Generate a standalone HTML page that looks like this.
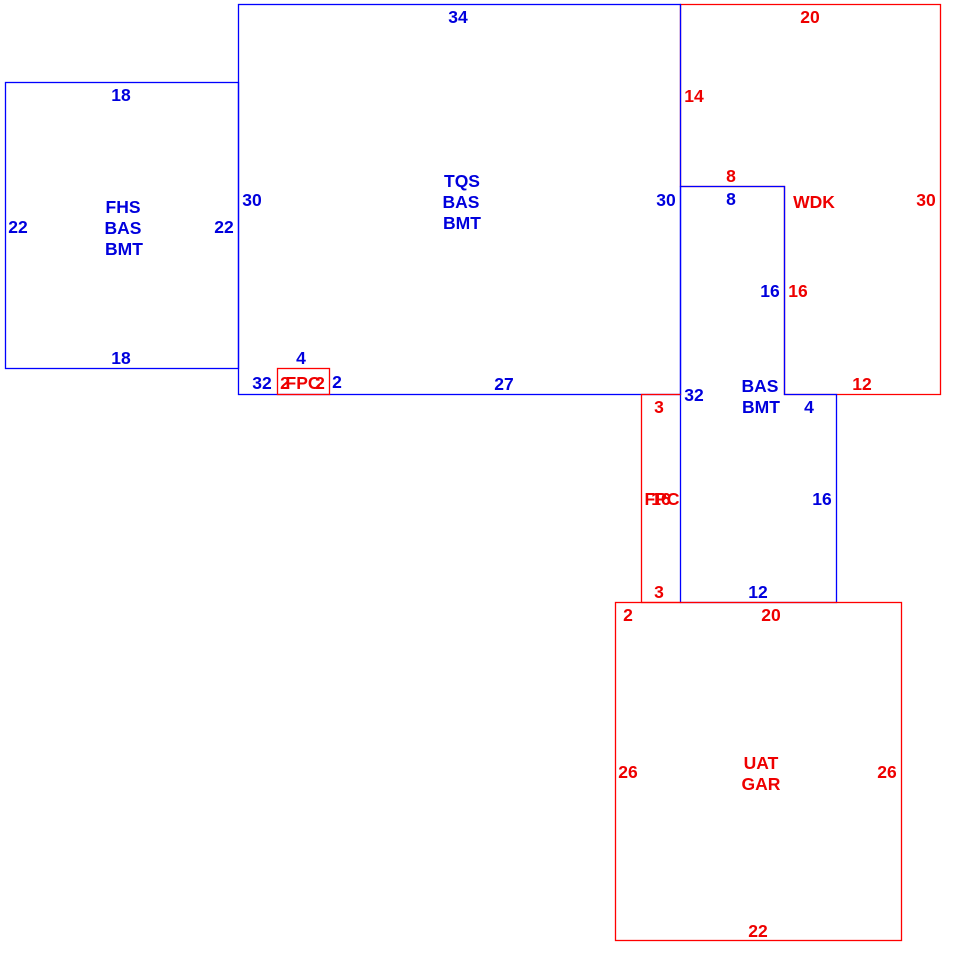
<!DOCTYPE html>
<html><head><meta charset="utf-8"><style>
html,body{margin:0;padding:0;background:#fff;}
svg{display:block;}
text{font-family:"Liberation Sans",Arial,sans-serif;font-weight:bold;font-size:17.5px;text-anchor:middle;dominant-baseline:central;}
.b{fill:#0000dd;}
.r{fill:#ee0000;}
</style></head><body>
<svg width="980" height="980" viewBox="0 0 980 980" xmlns="http://www.w3.org/2000/svg">
<rect width="980" height="980" fill="#fff"/>
<g fill="none" stroke-width="1.3">
<polygon points="680.5,4.5 940.5,4.5 940.5,394.5 784.5,394.5 784.5,186.5 680.5,186.5" stroke="#ff0000"/>
<rect x="238.5" y="4.5" width="442" height="390" stroke="#0000ff"/>
<rect x="5.5" y="82.5" width="233" height="286" stroke="#0000ff"/>
<polygon points="680.5,186.5 784.5,186.5 784.5,394.5 836.5,394.5 836.5,602.5 680.5,602.5" stroke="#0000ff"/>
<rect x="277.5" y="368.5" width="52" height="26" stroke="#ff0000"/>
<polyline points="680.5,394.5 641.5,394.5 641.5,602.5 680.5,602.5" stroke="#ff0000"/>
<rect x="615.5" y="602.5" width="286" height="338" stroke="#ff0000"/>
</g>
<g transform="translate(0,1)">
<text x="458" y="16" class="b">34</text>
<text x="121" y="94" class="b">18</text>
<text x="123" y="206" class="b">FHS</text>
<text x="123" y="227" class="b">BAS</text>
<text x="124" y="248" class="b">BMT</text>
<text x="18" y="226" class="b">22</text>
<text x="224" y="226" class="b">22</text>
<text x="252" y="199" class="b">30</text>
<text x="462" y="180" class="b">TQS</text>
<text x="461" y="201" class="b">BAS</text>
<text x="462" y="222" class="b">BMT</text>
<text x="666" y="199" class="b">30</text>
<text x="121" y="357" class="b">18</text>
<text x="301" y="357" class="b">4</text>
<text x="262" y="382" class="b">32</text>
<text x="337" y="381" class="b">2</text>
<text x="504" y="383" class="b">27</text>
<text x="731" y="198" class="b">8</text>
<text x="770" y="290" class="b">16</text>
<text x="694" y="394" class="b">32</text>
<text x="760" y="385" class="b">BAS</text>
<text x="761" y="406" class="b">BMT</text>
<text x="809" y="406" class="b">4</text>
<text x="822" y="498" class="b">16</text>
<text x="758" y="591" class="b">12</text>
<text x="285" y="382" class="r">2</text>
<text x="303" y="382" class="r">FPC</text>
<text x="320" y="382" class="r">2</text>
<text x="810" y="16" class="r">20</text>
<text x="694" y="95" class="r">14</text>
<text x="731" y="175" class="r">8</text>
<text x="814" y="201" class="r">WDK</text>
<text x="926" y="199" class="r">30</text>
<text x="798" y="290" class="r">16</text>
<text x="862" y="383" class="r">12</text>
<text x="659" y="406" class="r">3</text>
<text x="662" y="498" class="r">FPC</text>
<text x="661" y="498" class="r">16</text>
<text x="659" y="591" class="r">3</text>
<text x="628" y="614" class="r">2</text>
<text x="771" y="614" class="r">20</text>
<text x="628" y="771" class="r">26</text>
<text x="887" y="771" class="r">26</text>
<text x="761" y="762" class="r">UAT</text>
<text x="761" y="783" class="r">GAR</text>
<text x="758" y="930" class="r">22</text>
</g>
</svg>
</body></html>
